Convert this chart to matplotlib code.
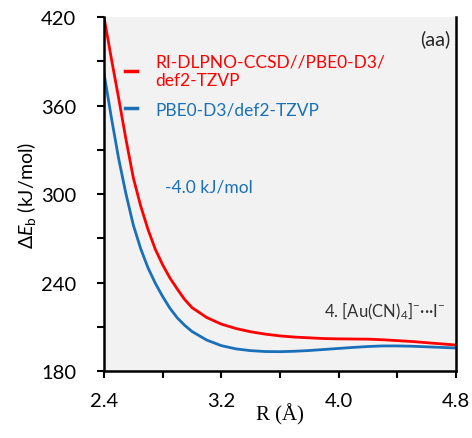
import matplotlib
matplotlib.use('Agg')
import matplotlib.pyplot as plt
from matplotlib.ticker import MultipleLocator

plt.rcParams['font.family'] = ['Lato', 'DejaVu Sans']
plt.rcParams['mathtext.fontset'] = 'custom'
plt.rcParams['mathtext.rm'] = 'Lato'
plt.rcParams['mathtext.it'] = 'Lato:italic'

RED = '#FF0000'
BLUE = '#1A70B8'
BG = '#F2F2F2'

# distance grid (Angstrom)
r = [2.40, 2.45, 2.50, 2.55, 2.60, 2.65, 2.70, 2.75, 2.80, 2.85, 2.90, 2.95,
     3.0, 3.1, 3.2, 3.3, 3.4, 3.5, 3.6, 3.7, 3.8, 3.9, 4.0, 4.1, 4.2, 4.3,
     4.4, 4.5, 4.6, 4.7, 4.8]

# binding energy curves (kJ/mol)
e_ccsd = [420, 392, 365, 337, 311, 292, 276, 262.5, 252, 243, 235.5, 228.5,
          223, 216.3, 211.8, 208.8, 206.6, 205, 203.8, 203, 202.5, 202, 201.8,
          201.7, 201.6, 201.2, 200.6, 200, 199.2, 198.4, 197.6]
e_pbe0 = [382, 352, 324, 300, 279, 263, 250, 239.5, 230.5, 222.5, 216, 211,
          206.8, 201, 197.2, 195, 193.8, 193.2, 193.1, 193.4, 193.9, 194.6,
          195.3, 196, 196.6, 197, 197, 196.8, 196.4, 196, 195.6]

labels = ['RI-DLPNO-CCSD//PBE0-D3/\ndef2-TZVP', 'PBE0-D3/def2-TZVP']
x_ticks = [2.4, 3.2, 4.0, 4.8]
y_ticks = [180, 240, 300, 360, 420]

fig = plt.figure(figsize=(4.72, 4.39), dpi=100)
ax = fig.add_axes([0.2203, 0.1526, 0.7458, 0.8064])
ax.set_facecolor(BG)

ax.plot(r, e_ccsd, color=RED, lw=2.0, label=labels[0], solid_joinstyle='round')
ax.plot(r, e_pbe0, color=BLUE, lw=2.0, label=labels[1], solid_joinstyle='round')

ax.set_xlim(2.4, 4.8)
ax.set_ylim(180, 420)
ax.set_xticks(x_ticks)
ax.set_xticklabels([f'{v:.1f}' for v in x_ticks])
ax.set_yticks(y_ticks)
ax.xaxis.set_minor_locator(MultipleLocator(0.4))
ax.yaxis.set_minor_locator(MultipleLocator(30))

ax.spines['top'].set_visible(False)
for s in ['left', 'right', 'bottom']:
    ax.spines[s].set_linewidth(1.8)
ax.tick_params(which='both', direction='out', length=5, width=1.5,
               labelsize=14.5, color='black')
ax.tick_params(axis='y', which='major', pad=15)
ax.tick_params(axis='x', which='major', pad=10)

ax.set_xlabel('R (Å)', family='Liberation Serif', fontsize=15, labelpad=-4)
ax.set_ylabel('Δ$E_{\\rm b}$ (kJ/mol)', fontsize=14, labelpad=2)

leg = ax.legend(loc='upper left', bbox_to_anchor=(0.04, 0.917), frameon=False,
                handlelength=0.7, handletextpad=1.05, labelspacing=0.76,
                fontsize=12.5, labelcolor='linecolor', borderaxespad=0)
for h in leg.legend_handles:
    h.set_linewidth(2.5)

ax.text(0.985, 0.965, '(aa)', transform=ax.transAxes, ha='right', va='top',
        fontsize=14.5, color='#262626')
ax.text(0.173, 0.52, '-4.0 kJ/mol', transform=ax.transAxes, ha='left',
        va='center', fontsize=12.5, color=BLUE)
ax.text(0.97, 0.172, '4. [Au(CN)$_4$]$^{-}$···I$^{-}$', transform=ax.transAxes,
        ha='right', va='center', fontsize=12, color='#333333')

fig.savefig('out.png', dpi=100, facecolor='white')
